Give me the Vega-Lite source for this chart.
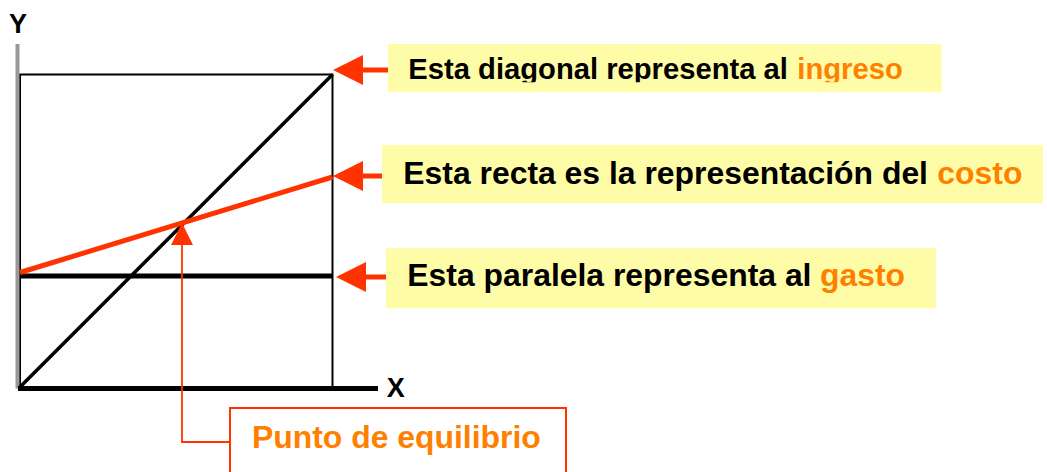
{
  "$schema": "https://vega.github.io/schema/vega-lite/v6.json",
  "width": 1047,
  "height": 472,
  "padding": 0,
  "autosize": {"type": "none"},
  "background": "white",
  "config": {"view": {"stroke": null}},
  "datasets": {
    "boxes": [
      {"x": 11.776, "x2": 29.488, "y": 9.4496, "y2": 10.976},
      {"x": 11.584, "x2": 32.736, "y": 5.8784, "y2": 7.744},
      {"x": 11.712, "x2": 29.312, "y": 2.5184, "y2": 4.4384}
    ],
    "cut": [{"x": 11.776, "x2": 29.488, "y": 9.4496, "y2": 9.7504}],
    "t1black": [{"x": 12.4256, "y": 9.8464, "text": "Esta diagonal representa al "}],
    "t1orange": [{"x": 24.874, "y": 9.8464, "text": "ingreso"}],
    "t23black": [
      {"x": 12.2656, "y": 6.4864, "text": "Esta recta es la representación del "},
      {"x": 12.3936, "y": 3.2416, "text": "Esta paralela representa al "}
    ],
    "t23orange": [
      {"x": 29.354, "y": 6.4864, "text": "costo"},
      {"x": 25.6, "y": 3.2416, "text": "gasto"},
      {"x": 7.424, "y": -1.952, "text": "Punto de equilibrio"}
    ],
    "axislabels": [
      {"x": 11.734, "y": -0.3104, "text": "X"},
      {"x": -0.352, "y": 11.3184, "text": "Y"}
    ],
    "frame": [{"x": 0, "x2": 10, "y": 0, "y2": 10}],
    "yaxis": [{"x": -0.08, "y": -0.05, "y2": 10.976}],
    "hlines": [
      {"x": 0, "x2": 10, "y": 3.552},
      {"x": -0.064, "x2": 11.456, "y": -0.048}
    ],
    "ingreso": [{"x": 0, "y": 0}, {"x": 10, "y": 10}],
    "costo": [{"x": 0, "y": 3.664}, {"x": 10, "y": 6.72}],
    "shafts": [
      {"x": 10.88, "x2": 11.776, "y": 10.144},
      {"x": 10.88, "x2": 11.584, "y": 6.752},
      {"x": 10.976, "x2": 11.712, "y": 3.52}
    ],
    "heads": [
      {"x": 10.496, "y": 10.144},
      {"x": 10.496, "y": 6.752},
      {"x": 10.592, "y": 3.52}
    ],
    "uphead": [{"x": 5.184, "y": 4.896}],
    "connector": [
      {"k": 1, "x": 5.184, "y": 4.704},
      {"k": 2, "x": 5.184, "y": -1.76},
      {"k": 3, "x": 6.72, "y": -1.76}
    ],
    "pbox": [{"x": 6.72, "x2": 17.472, "y": -0.672, "y2": -3.2}]
  },
  "encoding": {
    "x": {"field": "x", "type": "quantitative", "axis": null, "scale": {"domain": [-0.64, 32.864], "nice": false, "zero": false}},
    "y": {"field": "y", "type": "quantitative", "axis": null, "scale": {"domain": [-2.72, 12.384], "nice": false, "zero": false}}
  },
  "layer": [
    {
      "data": {"name": "boxes"},
      "mark": {"type": "rect", "fill": "#FFFCA8", "strokeWidth": 0},
      "encoding": {"x2": {"field": "x2"}, "y2": {"field": "y2"}}
    },
    {
      "data": {"name": "t1black"},
      "mark": {"type": "text", "align": "left", "baseline": "alphabetic", "font": "Liberation Sans", "fontWeight": "bold", "fontSize": 29.2, "color": "#000000"},
      "encoding": {"text": {"field": "text"}}
    },
    {
      "data": {"name": "t1orange"},
      "mark": {"type": "text", "align": "left", "baseline": "alphabetic", "font": "Liberation Sans", "fontWeight": "bold", "fontSize": 29.2, "color": "#FF8000"},
      "encoding": {"text": {"field": "text"}}
    },
    {
      "data": {"name": "cut"},
      "mark": {"type": "rect", "fill": "#FFFCA8", "strokeWidth": 0},
      "encoding": {"x2": {"field": "x2"}, "y2": {"field": "y2"}}
    },
    {
      "data": {"name": "t23black"},
      "mark": {"type": "text", "align": "left", "baseline": "alphabetic", "font": "Liberation Sans", "fontWeight": "bold", "fontSize": 31.9, "color": "#000000"},
      "encoding": {"text": {"field": "text"}}
    },
    {
      "data": {"name": "t23orange"},
      "mark": {"type": "text", "align": "left", "baseline": "alphabetic", "font": "Liberation Sans", "fontWeight": "bold", "fontSize": 31.9, "color": "#FF8000"},
      "encoding": {"text": {"field": "text"}}
    },
    {
      "data": {"name": "axislabels"},
      "mark": {"type": "text", "align": "left", "baseline": "alphabetic", "font": "Liberation Sans", "fontWeight": "bold", "fontSize": 27, "color": "#000000"},
      "encoding": {"text": {"field": "text"}}
    },
    {
      "data": {"name": "pbox"},
      "mark": {"type": "rect", "fill": null, "stroke": "#FF3300", "strokeWidth": 2, "clip": false},
      "encoding": {"x2": {"field": "x2"}, "y2": {"field": "y2"}}
    },
    {
      "data": {"name": "frame"},
      "mark": {"type": "rect", "fill": null, "stroke": "#000000", "strokeWidth": 2},
      "encoding": {"x2": {"field": "x2"}, "y2": {"field": "y2"}}
    },
    {
      "data": {"name": "yaxis"},
      "mark": {"type": "rule", "color": "#999999", "strokeWidth": 4},
      "encoding": {"y2": {"field": "y2"}}
    },
    {
      "data": {"name": "ingreso"},
      "mark": {"type": "line", "color": "#000000", "strokeWidth": 3.5},
      "encoding": {}
    },
    {
      "data": {"name": "hlines"},
      "mark": {"type": "rule", "color": "#000000", "strokeWidth": 5},
      "encoding": {"x2": {"field": "x2"}}
    },
    {
      "data": {"name": "costo"},
      "mark": {"type": "line", "color": "#FF3300", "strokeWidth": 5},
      "encoding": {}
    },
    {
      "data": {"name": "connector"},
      "mark": {"type": "line", "color": "#FF3300", "strokeWidth": 1.8},
      "encoding": {"order": {"field": "k", "type": "quantitative"}}
    },
    {
      "data": {"name": "shafts"},
      "mark": {"type": "rule", "color": "#FF3300", "strokeWidth": 5},
      "encoding": {"x2": {"field": "x2"}}
    },
    {
      "data": {"name": "heads"},
      "mark": {"type": "point", "shape": "M-1,0L1,-1L1,1Z", "size": 900, "filled": true, "color": "#FF3300", "opacity": 1, "strokeWidth": 0},
      "encoding": {}
    },
    {
      "data": {"name": "uphead"},
      "mark": {"type": "point", "shape": "M0,-1L1,1L-1,1Z", "size": 484, "filled": true, "color": "#FF3300", "opacity": 1, "strokeWidth": 0},
      "encoding": {}
    }
  ]
}
